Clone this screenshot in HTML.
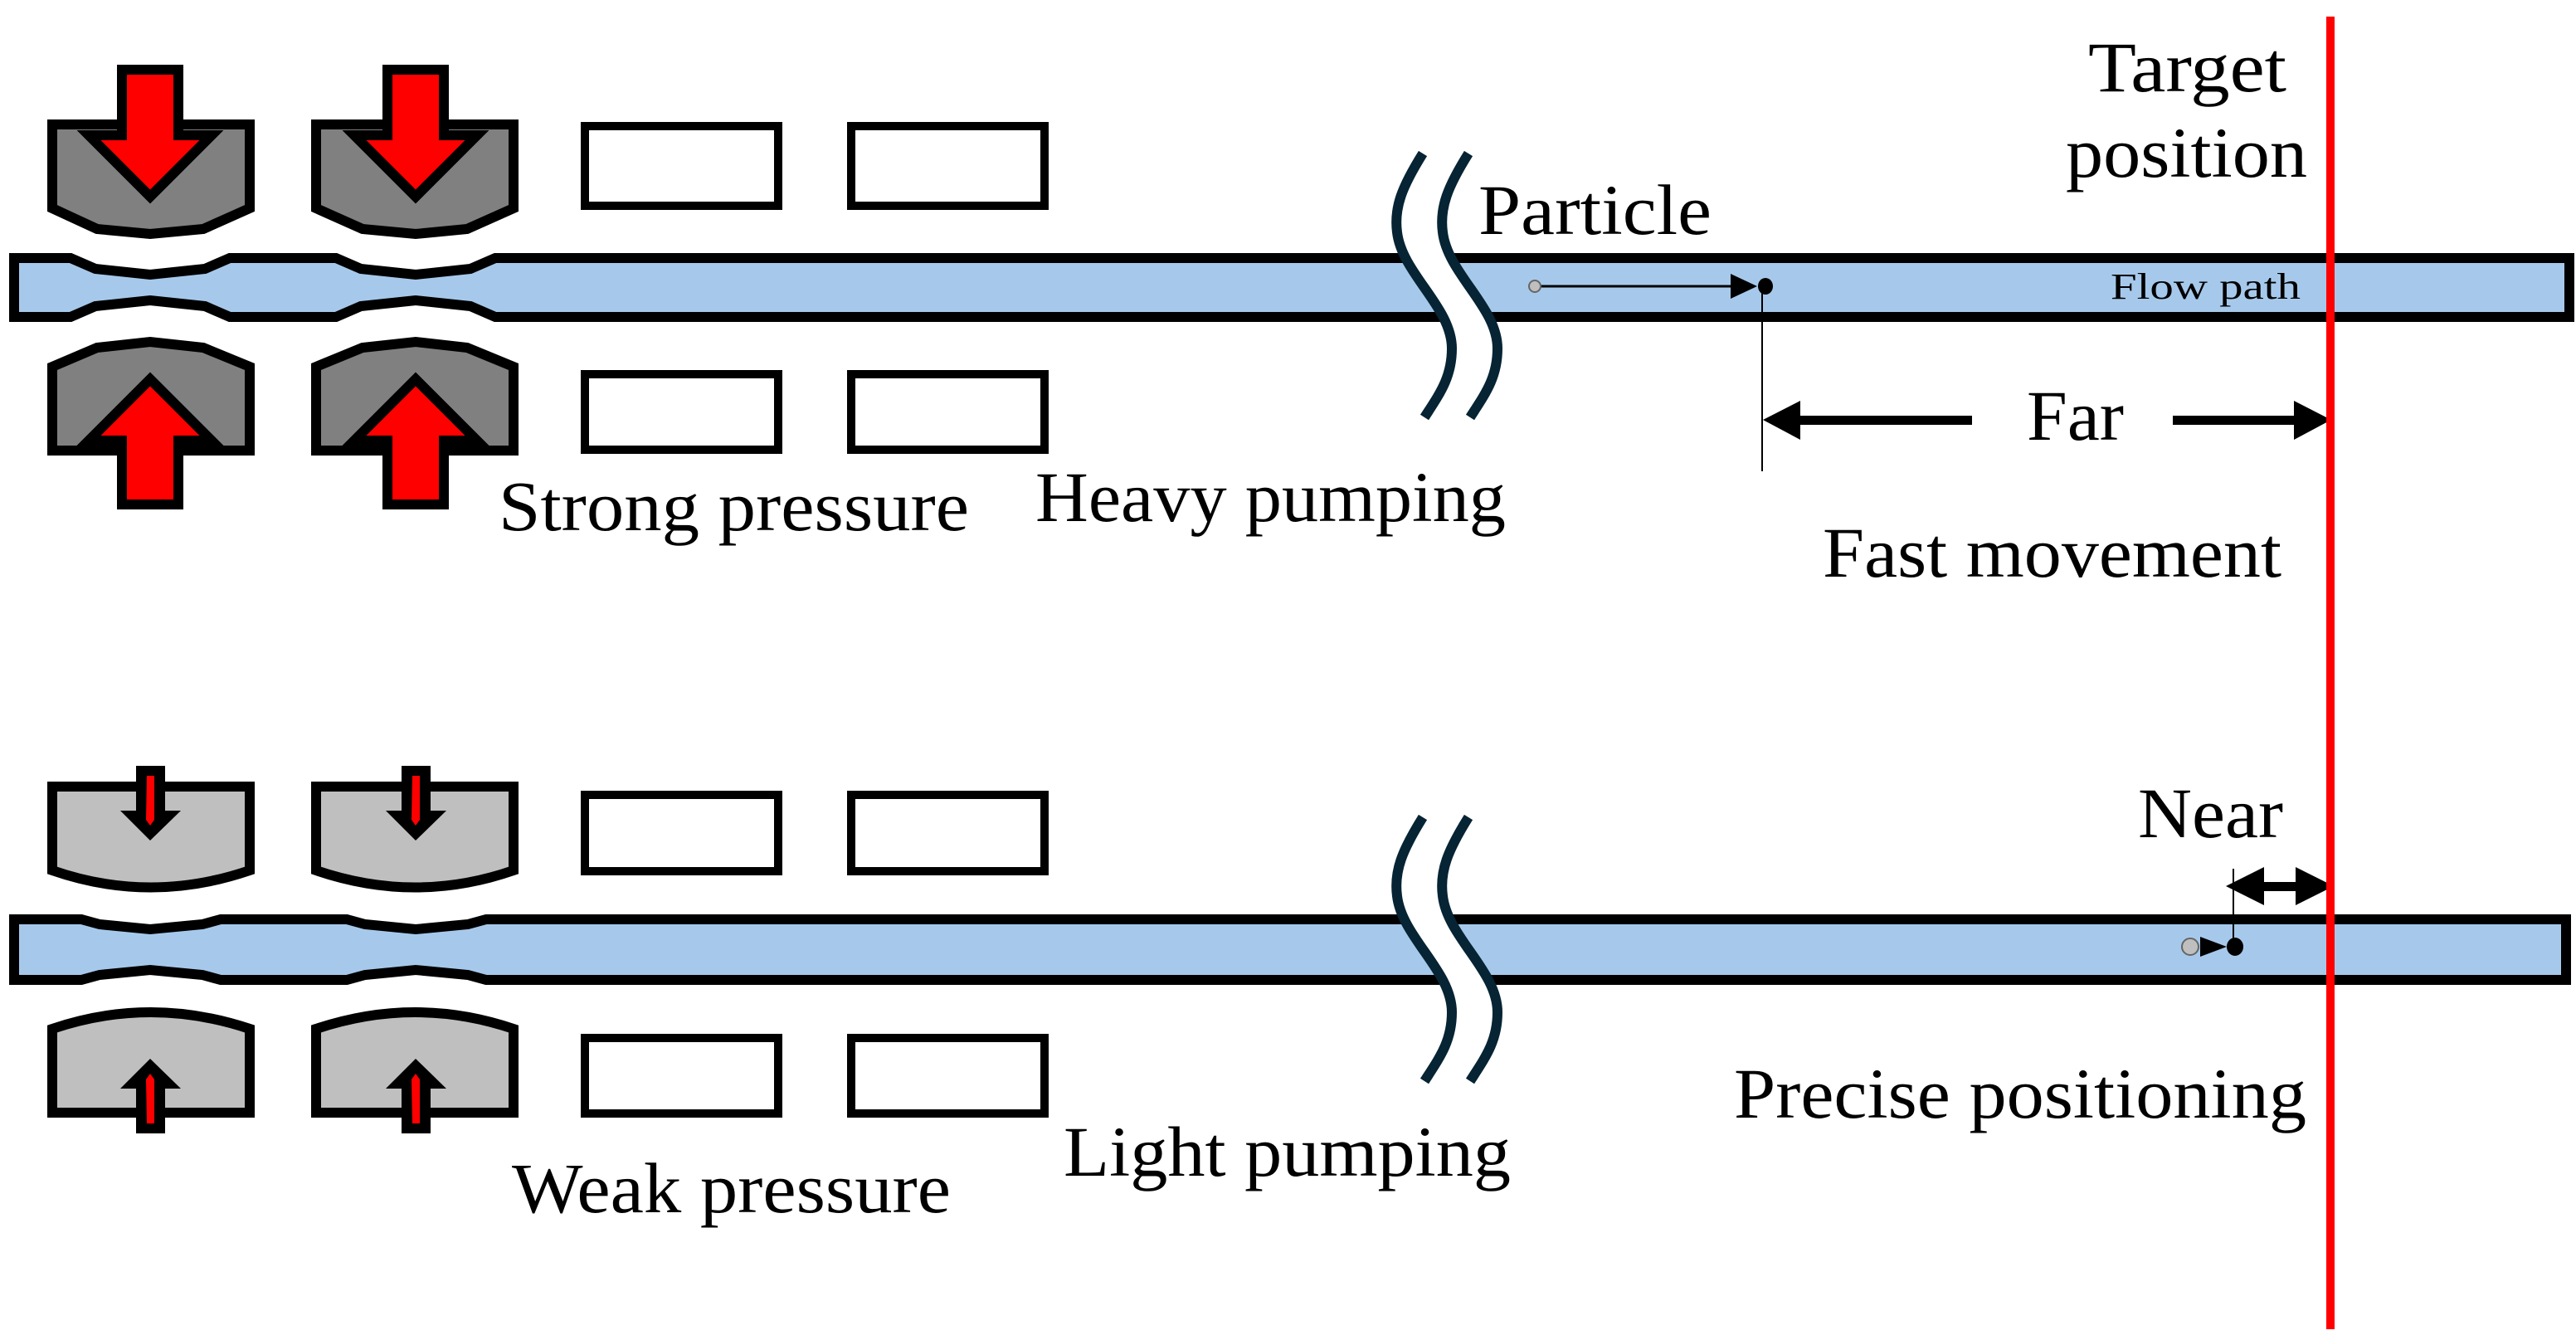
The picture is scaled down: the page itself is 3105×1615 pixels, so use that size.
<!DOCTYPE html>
<html><head><meta charset="utf-8"><style>html,body{margin:0;padding:0;background:#fff}svg{display:block}</style></head>
<body>
<svg width="3105" height="1615" viewBox="0 0 3105 1615" xmlns="http://www.w3.org/2000/svg" font-family="'Liberation Serif', serif">
<rect width="3105" height="1615" fill="#fff"/>
<!-- ===== TOP SECTION ===== -->
<!-- tube -->
<path d="M17,311 H85 L115,324 L181,331 L247,324 L277,311 H405 L435,324 L501,331 L567,324 L597,311 H3097 V382 H597 L567,369 L501,362 L435,369 L405,382 H277 L247,369 L181,362 L115,369 L85,382 H17 Z" fill="#a6c9eb" stroke="#000" stroke-width="12"/>
<!-- blocks -->
<g fill="#808080" stroke="#000" stroke-width="12">
<path d="M63,150 H301 V251 L245,276 L181,282 L117,276 L63,251 Z"/>
<path d="M381,150 H619 V251 L563,276 L501,282 L437,276 L381,251 Z"/>
<path d="M63,442 L117,419 L181,412 L245,419 L301,442 V543 H63 Z"/>
<path d="M381,442 L437,419 L501,412 L563,419 L619,442 V543 H381 Z"/>
</g>
<g fill="#ff0000" stroke="#000" stroke-width="12">
<path d="M147,84 H215 V163 H255 L181,237 L107,163 H147 Z"/>
<path d="M467,84 H535 V163 H575 L501,237 L427,163 H467 Z"/>
<path d="M147,608 H215 V531 H255 L181,457 L107,531 H147 Z"/>
<path d="M467,608 H535 V531 H575 L501,457 L427,531 H467 Z"/>
</g>
<!-- boxes -->
<g fill="#fff" stroke="#000" stroke-width="10">
<rect x="705" y="152" width="233" height="96"/>
<rect x="1026" y="152" width="233" height="96"/>
<rect x="705" y="451" width="233" height="91"/>
<rect x="1026" y="451" width="233" height="91"/>
<rect x="705" y="958" width="233" height="92"/>
<rect x="1026" y="958" width="233" height="92"/>
<rect x="705" y="1251" width="233" height="91"/>
<rect x="1026" y="1251" width="233" height="91"/>
</g>
<!-- break top -->
<g transform="translate(0,-800)">
<path d="M1715,985 C1690,1025 1680,1050 1684,1080 C1690,1130 1750,1170 1750,1220 C1750,1255 1735,1275 1717,1303 L1772,1303 C1790,1275 1805,1255 1805,1220 C1805,1170 1745,1130 1739,1080 C1735,1050 1745,1025 1770,985 Z" fill="#fff"/>
<g fill="none" stroke="#062433" stroke-width="12">
<path d="M1715,985 C1690,1025 1680,1050 1684,1080 C1690,1130 1750,1170 1750,1220 C1750,1255 1735,1275 1717,1303"/>
<path d="M1770,985 C1745,1025 1735,1050 1739,1080 C1745,1130 1805,1170 1805,1220 C1805,1255 1790,1275 1772,1303"/>
</g>
</g>
<!-- particle top -->
<line x1="1856" y1="345" x2="2090" y2="345" stroke="#000" stroke-width="3"/>
<path d="M2086,330 L2118,345 L2086,360 Z" fill="#000"/>
<circle cx="1850" cy="345" r="7" fill="#bfbfbf" stroke="#666" stroke-width="2"/>
<ellipse cx="2128" cy="345" rx="9" ry="10" fill="#000"/>
<line x1="2124" y1="345" x2="2124" y2="568" stroke="#000" stroke-width="2"/>
<!-- Far arrows -->
<rect x="2165" y="501" width="212" height="11" fill="#000"/>
<path d="M2125,506 L2170,483 L2170,530 Z" fill="#000"/>
<rect x="2619" y="501" width="150" height="11" fill="#000"/>
<path d="M2810,506 L2765,483 L2765,530 Z" fill="#000"/>
<!-- ===== BOTTOM SECTION ===== -->
<path d="M17,1108 H98 L120,1114 L181,1120 L244,1114 L266,1108 H418 L440,1114 L501,1120 L564,1114 L586,1108 H3093 V1181 H586 L564,1175 L501,1169 L440,1175 L418,1181 H266 L244,1175 L181,1169 L120,1175 L98,1181 H17 Z" fill="#a6c9eb" stroke="#000" stroke-width="12"/>
<g fill="#bfbfbf" stroke="#000" stroke-width="12">
<path d="M63,948 H301 V1049 Q181,1090 63,1049 Z"/>
<path d="M381,948 H619 V1049 Q501,1090 381,1049 Z"/>
<path d="M63,1240 Q181,1200 301,1240 V1341 H63 Z"/>
<path d="M381,1240 Q501,1200 619,1240 V1341 H381 Z"/>
</g>
<g fill="#000">
<path d="M164,923 H199 V977 H218 L181,1013 L145,977 H164 Z"/>
<path d="M484,923 H519 V977 H538 L501,1013 L465,977 H484 Z"/>
<path d="M164,1366 H199 V1312 H218 L181,1276 L145,1312 H164 Z"/>
<path d="M484,1366 H519 V1312 H538 L501,1276 L465,1312 H484 Z"/>
</g>
<g fill="#ff0000">
<path d="M177,935 H186 V988 L181,995 L176,988 Z"/>
<path d="M497,935 H506 V988 L501,995 L496,988 Z"/>
<path d="M177,1354 H186 V1301 L181,1294 L176,1301 Z"/>
<path d="M497,1354 H506 V1301 L501,1294 L496,1301 Z"/>
</g>
<path d="M1715,985 C1690,1025 1680,1050 1684,1080 C1690,1130 1750,1170 1750,1220 C1750,1255 1735,1275 1717,1303 L1772,1303 C1790,1275 1805,1255 1805,1220 C1805,1170 1745,1130 1739,1080 C1735,1050 1745,1025 1770,985 Z" fill="#fff"/>
<g fill="none" stroke="#062433" stroke-width="12">
<path d="M1715,985 C1690,1025 1680,1050 1684,1080 C1690,1130 1750,1170 1750,1220 C1750,1255 1735,1275 1717,1303"/>
<path d="M1770,985 C1745,1025 1735,1050 1739,1080 C1745,1130 1805,1170 1805,1220 C1805,1255 1790,1275 1772,1303"/>
</g>
<!-- particle bottom -->
<path d="M2652,1129 L2684,1141 L2652,1153 Z" fill="#000"/>
<circle cx="2640" cy="1141" r="10" fill="#bfbfbf" stroke="#666" stroke-width="2"/>
<ellipse cx="2694" cy="1141" rx="10" ry="11" fill="#000"/>
<line x1="2692" y1="1047" x2="2692" y2="1141" stroke="#000" stroke-width="2"/>
<rect x="2725" y="1063" width="45" height="11" fill="#000"/>
<path d="M2683,1068 L2729,1045 L2729,1091 Z" fill="#000"/>
<path d="M2813,1068 L2767,1045 L2767,1091 Z" fill="#000"/>
<!-- red target line -->
<rect x="2804" y="20" width="10" height="1582" fill="#ff0000"/>
<!-- texts -->
<g fill="#000" font-size="86">
<text x="2517" y="110" textLength="239" lengthAdjust="spacingAndGlyphs">Target</text>
<text x="2490" y="213" textLength="291" lengthAdjust="spacingAndGlyphs">position</text>
<text x="1782" y="282" textLength="281" lengthAdjust="spacingAndGlyphs">Particle</text>
<text x="2443" y="530" textLength="117" lengthAdjust="spacingAndGlyphs">Far</text>
<text x="601" y="639" textLength="567" lengthAdjust="spacingAndGlyphs">Strong pressure</text>
<text x="1248" y="628" textLength="567" lengthAdjust="spacingAndGlyphs">Heavy pumping</text>
<text x="2197" y="695" textLength="553" lengthAdjust="spacingAndGlyphs">Fast movement</text>
<text x="2577" y="1009" textLength="175" lengthAdjust="spacingAndGlyphs">Near</text>
<text x="2090" y="1347" textLength="690" lengthAdjust="spacingAndGlyphs">Precise positioning</text>
<text x="1282" y="1417" textLength="539" lengthAdjust="spacingAndGlyphs">Light pumping</text>
<text x="617" y="1461" textLength="529" lengthAdjust="spacingAndGlyphs">Weak pressure</text>
</g>
<text x="2544" y="360" font-size="44" textLength="229" lengthAdjust="spacingAndGlyphs" fill="#000">Flow path</text>
</svg>
</body></html>
